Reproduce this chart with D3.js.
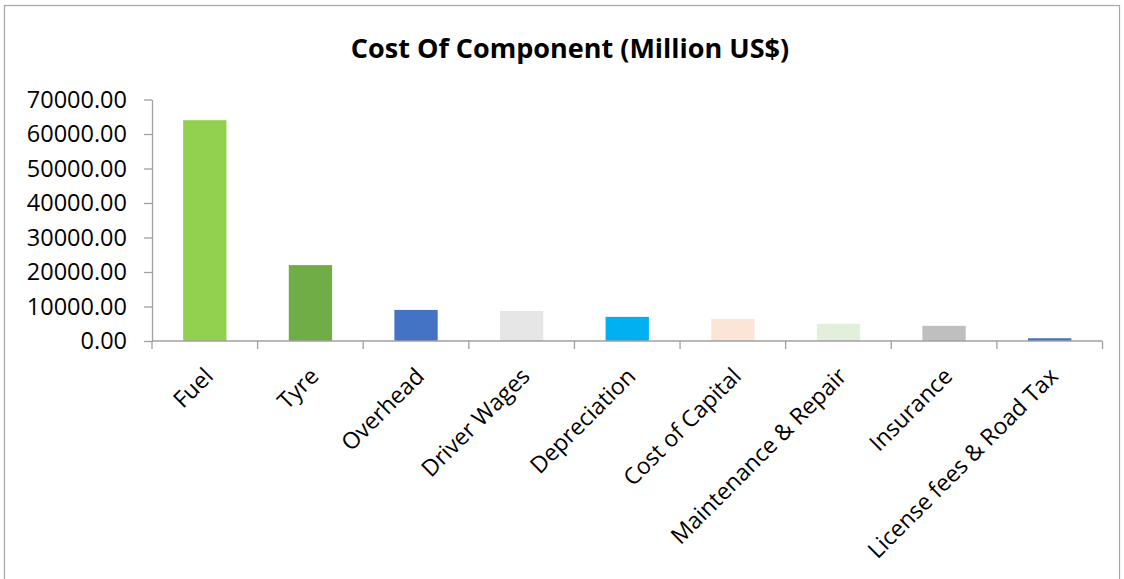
<!DOCTYPE html>
<html>
<head>
<meta charset="utf-8">
<script src="https://cdn.jsdelivr.net/npm/d3@7"></script>
<style>
  body { margin: 0; background: #fff; }
  svg { display: block; font-family: "Open Sans", "DejaVu Sans", sans-serif; }
</style>
</head>
<body>
<div id="chart"></div>
<script>
const categories = [
  "Fuel", "Tyre", "Overhead", "Driver Wages", "Depreciation",
  "Cost of Capital", "Maintenance & Repair", "Insurance", "License fees & Road Tax"
];
const costs = [64000, 22000, 9000, 8700, 7000, 6400, 5000, 4400, 800];
const barColors = [
  "#92d050", "#70ad47", "#4472c4", "#e6e6e6", "#00b0f0",
  "#fbe5d6", "#e2efda", "#bfbfbf", "#4472c4"
];
const yTicks = [0, 10000, 20000, 30000, 40000, 50000, 60000, 70000];

const W = 1124, H = 579;
const plot = { left: 152, right: 1102.5, top: 99.5, bottom: 341 };

const svg = d3.select("#chart").append("svg")
  .attr("width", W)
  .attr("height", H);

// chart frame
svg.append("rect")
  .attr("x", 4.5).attr("y", 5.5)
  .attr("width", 1115).attr("height", 620)
  .attr("fill", "none")
  .attr("stroke", "#a6a6a6")
  .attr("stroke-width", 1.2);

svg.append("text")
  .attr("x", 570)
  .attr("y", 58)
  .attr("text-anchor", "middle")
  .style("font-size", "27px")
  .style("font-weight", "bold")
  .style("fill", "#000")
  .text("Cost Of Component (Million US$)");

const x = d3.scaleBand().domain(categories).range([plot.left, plot.right]).paddingInner(0.59).paddingOuter(0.295);
const xBand = d3.scaleBand().domain(categories).range([plot.left, plot.right]);
const y = d3.scaleLinear().domain([0, 70000]).range([plot.bottom, plot.top]);

// y axis
const yAxis = svg.append("g")
  .attr("transform", `translate(${plot.left},0)`)
  .call(d3.axisLeft(y).tickValues(yTicks).tickFormat(d3.format(".2f")).tickSizeInner(8).tickSizeOuter(0).tickPadding(17));
yAxis.select(".domain").attr("stroke", "#a0a0a0").attr("stroke-width", 1.3);
yAxis.selectAll(".tick line").attr("stroke", "#a0a0a0").attr("stroke-width", 1.3);
yAxis.selectAll("text")
  .style("font-size", "23.5px")
  .style("font-family", "\"Open Sans\", sans-serif")
  .attr("fill", "#000");

// bars
svg.selectAll(".bar")
  .data(costs)
  .enter()
  .append("rect")
  .attr("class", "bar")
  .attr("x", (d, i) => x(categories[i]))
  .attr("y", d => y(d))
  .attr("width", x.bandwidth())
  .attr("height", d => y(0) - y(d))
  .attr("fill", (d, i) => barColors[i]);

// x axis: ticks between categories
const xAxis = svg.append("g").attr("transform", `translate(0,${plot.bottom})`);
xAxis.append("line")
  .attr("x1", plot.left).attr("x2", plot.right)
  .attr("stroke", "#a0a0a0").attr("stroke-width", 1.3);
const boundaries = categories.map(c => xBand(c)).concat([plot.right]);
xAxis.selectAll(".xtick")
  .data(boundaries)
  .enter()
  .append("line")
  .attr("x1", d => d).attr("x2", d => d)
  .attr("y1", 0).attr("y2", 8)
  .attr("stroke", "#a0a0a0").attr("stroke-width", 1.3);

xAxis.selectAll(".xlabel")
  .data(categories)
  .enter()
  .append("text")
  .attr("transform", d => `translate(${xBand(d) + xBand.bandwidth() / 2 + 4},${31}) rotate(-45)`)
  .attr("text-anchor", "end")
  .attr("dy", "0.35em")
  .style("font-size", "23px")
  .attr("fill", "#000")
  .text(d => d);
</script>
</body>
</html>
